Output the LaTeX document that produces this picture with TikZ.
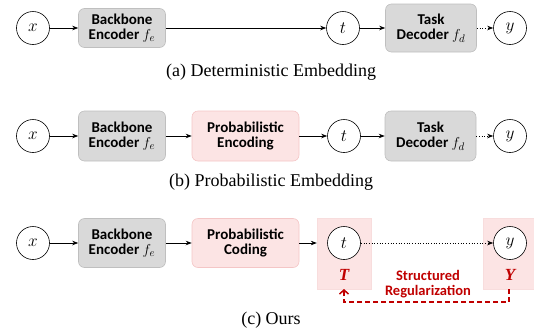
\documentclass[tikz,border=0pt]{standalone}
\usepackage[no-math]{fontspec}
\setmainfont{Liberation Serif}
\newfontfamily\boxfont{Carlito}
\newfontfamily\capfont{Liberation Serif}
\usetikzlibrary{arrows.meta}
\definecolor{boxgray}{HTML}{D9D9D9}
\definecolor{boxedge}{HTML}{BFBFBF}
\definecolor{pinkfill}{HTML}{FCE4E4}
\definecolor{pinkedge}{HTML}{F4C6C6}
\definecolor{darkred}{HTML}{C00000}
\begin{document}
\begin{tikzpicture}[x=1pt,y=-1pt,
  var/.style={circle,draw,fill=white,line width=0.6pt,minimum size=33pt,inner sep=0pt,font=\fontsize{18}{18}\selectfont},
  graybox/.style={rectangle,rounded corners=6pt,draw=boxedge,fill=boxgray,line width=0.6pt,align=center,inner sep=0pt,font={\fontsize{15}{15}\selectfont\boxfont\bfseries}},
  pinkbox/.style={graybox,draw=pinkedge,fill=pinkfill},
  panel/.style={rectangle,fill=pinkfill,draw=pinkedge!60,line width=0.4pt,inner sep=0pt},
  arr/.style={-{Stealth[length=6pt,width=4.5pt]},line width=0.7pt},
  dotarr/.style={arr,dotted},
  captext/.style={font={\fontsize{18}{18}\selectfont\capfont},inner sep=0pt},
  redlabel/.style={text=darkred,font={\fontsize{17}{17}\selectfont\capfont\bfseries\itshape},inner sep=0pt},
  regtext/.style={text=darkred,align=center,inner sep=0pt,font={\fontsize{14.5}{15}\selectfont\boxfont\bfseries}},
  regarr/.style={draw=darkred,line width=1.5pt,dash pattern=on 5pt off 3pt,-{Straight Barb[length=4pt,width=9pt,line width=1.5pt]}}
]
\useasboundingbox (0,0) rectangle (534,335);

% (a)
\node[var] (xa) at (33,28) {$x$};
\node[graybox,minimum width=87pt,minimum height=39pt] (ba) at (122,28) {Backbone\\Encoder $f_e$};
\node[var] (ta) at (343,28) {$t$};
\node[graybox,minimum width=91pt,minimum height=48pt] (da) at (431,28) {Task\\Decoder $f_d$};
\node[var] (ya) at (510,28) {$y$};
\draw[arr] (xa) -- (ba);
\draw[arr] (ba) -- (ta);
\draw[arr] (ta) -- (da);
\draw[dotarr] (da) -- (ya);
\node[captext] (capa) at (271,72) {(a) Deterministic Embedding};

% (b)
\node[var] (xb) at (33,136) {$x$};
\node[graybox,minimum width=87pt,minimum height=50pt] (bb) at (122,136) {Backbone\\Encoder $f_e$};
\node[pinkbox,minimum width=107pt,minimum height=50pt] (pb) at (245.5,136) {Probabilistic\\Encoding};
\node[var] (tb) at (344,136) {$t$};
\node[graybox,minimum width=91pt,minimum height=50pt] (db) at (430.5,136) {Task\\Decoder $f_d$};
\node[var] (yb) at (510,136) {$y$};
\draw[arr] (xb) -- (bb);
\draw[arr] (bb) -- (pb);
\draw[arr] (pb) -- (tb);
\draw[arr] (tb) -- (db);
\draw[dotarr] (db) -- (yb);
\node[captext] (capb) at (271,182) {(b) Probabilistic Embedding};

% (c)
\node[panel,minimum width=54pt,minimum height=71pt] (pt) at (344,253.5) {};
\node[panel,minimum width=51pt,minimum height=71pt] (py) at (508.5,253.5) {};
\node[var] (xc) at (33,243) {$x$};
\node[graybox,minimum width=87pt,minimum height=49pt] (bc) at (122,243) {Backbone\\Encoder $f_e$};
\node[pinkbox,minimum width=107pt,minimum height=49pt] (pc) at (245.5,243) {Probabilistic\\Coding};
\node[var] (tc) at (344,243) {$t$};
\node[var] (yc) at (510,243) {$y$};
\node[redlabel] (tl) at (344,275) {T};
\node[redlabel] (yl) at (510,275) {Y};
\draw[arr] (xc) -- (bc);
\draw[arr] (bc) -- (pc);
\draw[arr] (pc) -- (pt.west |- pc);
\draw[dotarr] (tc) -- (yc);
\node[regtext] (reg) at (428,284) {Structured\\Regularization};
\coordinate (ys) at (509,289);
\coordinate (ts) at (344,289);
\draw[regarr] (ys) -- (509,302) -- (344,302) -- (ts);
\node[captext] (capc) at (271,320) {(c) Ours};
\end{tikzpicture}
\end{document}
